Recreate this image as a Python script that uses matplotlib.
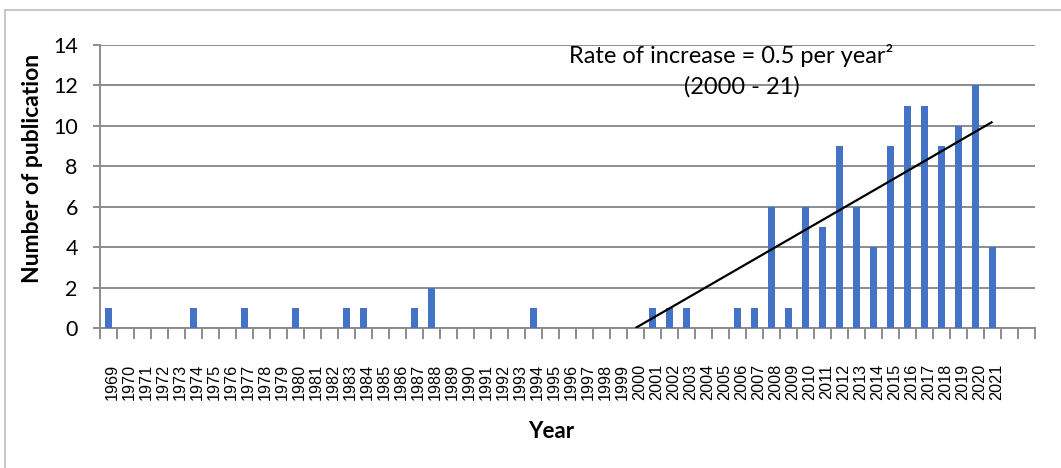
import matplotlib
matplotlib.use("Agg")
import matplotlib.pyplot as plt
import matplotlib.transforms as mtransforms
from matplotlib.lines import Line2D

# ---- data ----
years = list(range(1969, 2022))
publications = [1, 0, 0, 0, 0, 1, 0, 0, 1, 0, 0, 1, 0, 0, 1, 1, 0, 0, 1, 2,   # 1969-1988
                0, 0, 0, 0, 0, 1, 0, 0, 0, 0, 0,                                # 1989-1999
                0, 1, 1, 1, 0, 0, 1, 1, 6, 1,                                   # 2000-2009
                6, 5, 9, 6, 4, 9, 11, 11, 9, 10, 12, 4]                         # 2010-2021
tick_labels = [str(y) for y in years] + ["", ""]
trend_years = [2000, 2021]
trend_values = [0.0, 10.2]
y_ticks = [0, 2, 4, 6, 8, 10, 12, 14]
annotation_line1 = "Rate of increase = 0.5 per year\u00b2"
annotation_line2 = "(2000 - 21)"

W, H, DPI = 1061, 468, 100
fig = plt.figure(figsize=(W / DPI, H / DPI), dpi=DPI)
ax = fig.add_axes([100 / W, 1 - 328 / H, (1035 - 100) / W, (328 - 45) / H])

grey = "#8c8c8c"
blue = "#4472C4"
calib = ["Lato", "DejaVu Sans"]

n_cat = len(tick_labels)
x_idx = list(range(len(years)))
ax.bar(x_idx, publications, width=0.4, color=blue, zorder=3)

# trend line
t_idx = [years.index(y) for y in trend_years]
ax.plot(t_idx, trend_values, color="black", lw=1.6, zorder=4, solid_capstyle="butt")

ax.set_xlim(-0.5, n_cat - 0.5)
ax.set_ylim(0, 14)

# x ticks: labels at centers, tick marks at boundaries
ax.set_xticks(range(n_cat))
ax.set_xticklabels(tick_labels, rotation=90, fontsize=11.7,
                   family=["Liberation Sans", "DejaVu Sans"], va="top", ha="center")
ax.set_xticks([i - 0.5 for i in range(n_cat + 1)], minor=True)
ax.tick_params(axis="x", which="major", length=0, pad=26)
ax.tick_params(axis="x", which="minor", length=8, width=1.4, color=grey, direction="out")
offset = mtransforms.ScaledTranslation(4 / DPI, 0, fig.dpi_scale_trans)
for lab in ax.get_xticklabels():
    lab.set_transform(lab.get_transform() + offset)

ax.set_yticks(y_ticks)
ax.set_yticklabels([str(v) for v in y_ticks], fontsize=15.5, family=calib)
ax.tick_params(axis="y", length=5, width=1.4, color=grey, pad=11)

ax.grid(axis="y", color=grey, lw=1.4, zorder=0)
ax.set_axisbelow(True)
for s in ["top", "right"]:
    ax.spines[s].set_visible(False)
for s in ["left", "bottom"]:
    ax.spines[s].set_color(grey)
    ax.spines[s].set_linewidth(1.4)
    ax.spines[s].set_zorder(2)

# axis labels
fig.text(33 / W, 1 - 168 / H, "Number of publication", rotation=90, ha="center", va="center",
         fontsize=16.5, fontweight="bold", family=calib)
fig.text(551 / W, 1 - 431 / H, "Year", ha="center", va="center",
         fontsize=16, fontweight="bold", family=calib)

# annotation
ax.text((731 - 100) / 935, 13.5, annotation_line1, transform=ax.get_yaxis_transform(),
        ha="center", va="center", fontsize=17, family=calib, zorder=5)
ax.text((742 - 100) / 935, 11.92, annotation_line2, transform=ax.get_yaxis_transform(),
        ha="center", va="center", fontsize=17, family=calib, zorder=5)

# outer border (left and top visible)
bcol = "#bfbfbf"
fig.add_artist(Line2D([4.5 / W, 4.5 / W], [0, 1 - 9.5 / H], color=bcol, lw=1.2,
                      transform=fig.transFigure))
fig.add_artist(Line2D([4.5 / W, 1], [1 - 9.5 / H, 1 - 9.5 / H], color=bcol, lw=1.2,
                      transform=fig.transFigure))

fig.savefig("out.png", dpi=DPI)
